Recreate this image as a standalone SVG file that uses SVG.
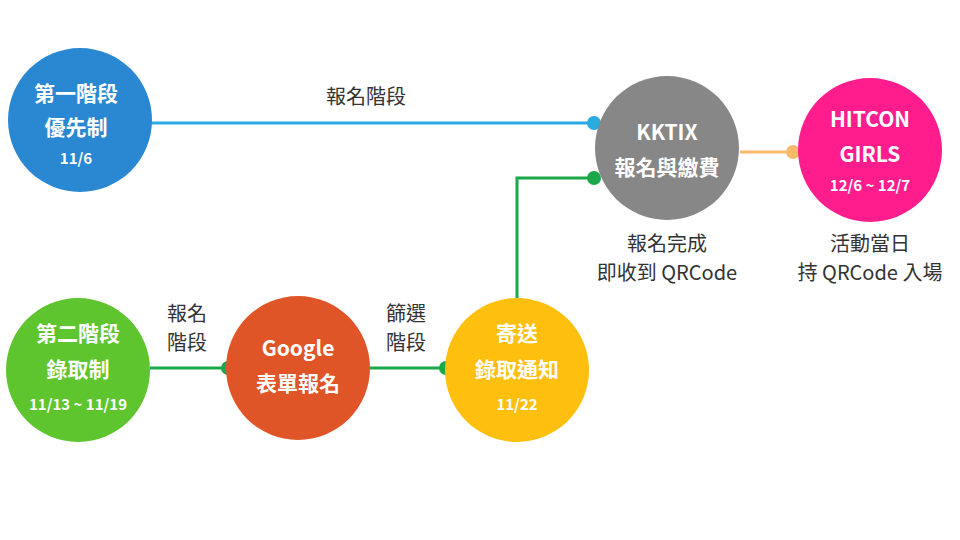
<svg xmlns="http://www.w3.org/2000/svg" width="960" height="540" viewBox="0 0 960 540">
<style>
text{font-family:"Noto Sans CJK TC","Noto Sans",sans-serif;text-anchor:middle}
.w{fill:#fff;font-size:21px;font-weight:bold}
.s{fill:#fff;font-size:15px;font-weight:bold}
.l{fill:#333;font-size:20px}
</style>
<rect width="960" height="540" fill="#fff"/>
<g id="connectors" fill="none" stroke-width="3">
<line x1="150" y1="123" x2="594" y2="123" stroke="#29abe2"/>
<circle cx="594" cy="123" r="7" fill="#29abe2" stroke="none"/>
<line x1="740" y1="152" x2="793" y2="152" stroke="#f9b96a"/>
<circle cx="793" cy="152" r="7" fill="#f9b96a" stroke="none"/>
<line x1="150" y1="368" x2="228" y2="368" stroke="#1aa84a"/>
<circle cx="228" cy="368" r="7" fill="#1aa84a" stroke="none"/>
<line x1="370" y1="368" x2="446" y2="368" stroke="#1aa84a"/>
<circle cx="446" cy="368" r="7" fill="#1aa84a" stroke="none"/>
<polyline points="517,298 517,178 594,178" stroke="#1aa84a"/>
<circle cx="594" cy="178" r="7" fill="#1aa84a" stroke="none"/>
</g>
<g id="n1"><circle cx="80" cy="120" r="72" fill="#2a88d2"/><text class="w" x="76" y="101">第一階段</text><text class="w" x="76" y="135">優先制</text><text class="s" x="76" y="164">11/6</text></g>
<g id="n2"><circle cx="78" cy="370" r="72" fill="#5ec52f"/><text class="w" x="78" y="341">第二階段</text><text class="w" x="78" y="377">錄取制</text><text class="s" x="78" y="410">11/13 ~ 11/19</text></g>
<g id="n3"><circle cx="298" cy="368" r="72" fill="#e05527"/><text class="w" x="298" y="356">Google</text><text class="w" x="298" y="391">表單報名</text></g>
<g id="n4"><circle cx="517" cy="370" r="72" fill="#ffbf0e"/><text class="w" x="517" y="341">寄送</text><text class="w" x="517" y="377">錄取通知</text><text class="s" x="517" y="410">11/22</text></g>
<g id="n5"><circle cx="667" cy="148" r="72" fill="#878787"/><text class="w" x="667" y="140">KKTIX</text><text class="w" x="667" y="175">報名與繳費</text></g>
<g id="n6"><circle cx="870" cy="150" r="72" fill="#ff1c8d"/><text class="w" x="870" y="127">HITCON</text><text class="w" x="870" y="162">GIRLS</text><text class="s" x="870" y="191">12/6 ~ 12/7</text></g>
<g id="labels">
<text class="l" x="366" y="104">報名階段</text>
<text class="l" x="187" y="321">報名</text><text class="l" x="187" y="350">階段</text>
<text class="l" x="406" y="321">篩選</text><text class="l" x="406" y="350">階段</text>
<text class="l" x="667" y="251">報名完成</text><text class="l" x="667" y="280">即收到 QRCode</text>
<text class="l" x="870" y="251">活動當日</text><text class="l" x="870" y="280">持 QRCode 入場</text>
</g>
</svg>
